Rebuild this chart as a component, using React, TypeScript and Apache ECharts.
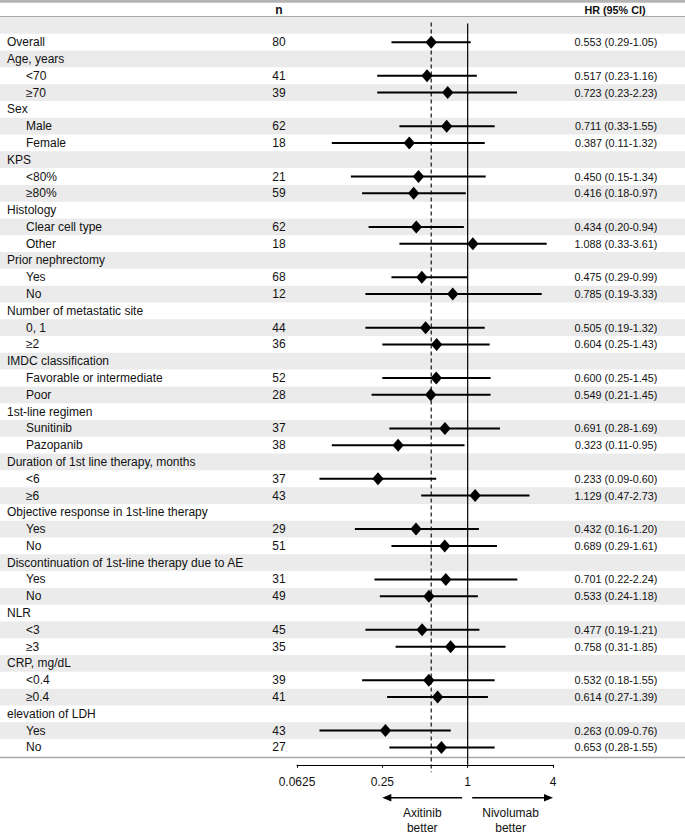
import React, { useEffect, useRef } from "react";
import * as echarts from "echarts";

const rowLabels = ['', 'Overall', 'Age, years', '<70', '≥70', 'Sex', 'Male', 'Female', 'KPS', '<80%', '≥80%', 'Histology', 'Clear cell type', 'Other', 'Prior nephrectomy', 'Yes', 'No', 'Number of metastatic site', '0, 1', '≥2', 'IMDC classification', 'Favorable or intermediate', 'Poor', '1st-line regimen', 'Sunitinib', 'Pazopanib', 'Duration of 1st line therapy, months', '<6', '≥6', 'Objective response in 1st-line therapy', 'Yes', 'No', 'Discontinuation of 1st-line therapy due to AE', 'Yes', 'No', 'NLR', '<3', '≥3', 'CRP, mg/dL', '<0.4', '≥0.4', 'elevation of LDH', 'Yes', 'No'];
const rowLevel = [0, 0, 0, 1, 1, 0, 1, 1, 0, 1, 1, 0, 1, 1, 0, 1, 1, 0, 1, 1, 0, 1, 1, 0, 1, 1, 0, 1, 1, 0, 1, 1, 0, 1, 1, 0, 1, 1, 0, 1, 1, 0, 1, 1];
const nValues = [null, 80, null, 41, 39, null, 62, 18, null, 21, 59, null, 62, 18, null, 68, 12, null, 44, 36, null, 52, 28, null, 37, 38, null, 37, 43, null, 29, 51, null, 31, 49, null, 45, 35, null, 39, 41, null, 43, 27];
const hrValues = [null, 0.553, null, 0.517, 0.723, null, 0.711, 0.387, null, 0.450, 0.416, null, 0.434, 1.088, null, 0.475, 0.785, null, 0.505, 0.604, null, 0.600, 0.549, null, 0.691, 0.323, null, 0.233, 1.129, null, 0.432, 0.689, null, 0.701, 0.533, null, 0.477, 0.758, null, 0.532, 0.614, null, 0.263, 0.653];
const ciLow = [null, 0.29, null, 0.23, 0.23, null, 0.33, 0.11, null, 0.15, 0.18, null, 0.20, 0.33, null, 0.29, 0.19, null, 0.19, 0.25, null, 0.25, 0.21, null, 0.28, 0.11, null, 0.09, 0.47, null, 0.16, 0.29, null, 0.22, 0.24, null, 0.19, 0.31, null, 0.18, 0.27, null, 0.09, 0.28];
const ciHigh = [null, 1.05, null, 1.16, 2.23, null, 1.55, 1.32, null, 1.34, 0.97, null, 0.94, 3.61, null, 0.99, 3.33, null, 1.32, 1.43, null, 1.45, 1.45, null, 1.69, 0.95, null, 0.60, 2.73, null, 1.20, 1.61, null, 2.24, 1.18, null, 1.21, 1.85, null, 1.55, 1.39, null, 0.76, 1.55];
const axisMin = 0.0625;
const axisMax = 4;
const overallHR = hrValues[1] as number;

const FONT = "'Liberation Sans', Arial, sans-serif";

function txt(text: string, x: number, y: number, size: number, align: string, weight = "normal") {
  return {
    type: "text",
    style: {
      text,
      x,
      y,
      fill: "#111",
      fontSize: size,
      fontFamily: FONT,
      fontWeight: weight,
      textAlign: align,
      align,
      textVerticalAlign: "middle",
      verticalAlign: "middle",
    },
  };
}

export default function App() {
  const ref = useRef<HTMLDivElement>(null);
  useEffect(() => {
    if (!ref.current) return;
    const chart = echarts.init(ref.current, undefined, { renderer: "svg" });
    const rowIdx = rowLabels.map((_, i) => i);
    const option: any = {
      animation: false,
      backgroundColor: "#ffffff",
      grid: { left: 297, right: 132, top: 17, bottom: 80.2, containLabel: false },
      xAxis: {
        type: "log",
        logBase: 4,
        min: axisMin,
        max: axisMax,
        position: "bottom",
        offset: 9,
        axisLine: { show: true, lineStyle: { color: "#000", width: 1 } },
        axisTick: { show: true, inside: false, length: 3, lineStyle: { color: "#000" } },
        axisLabel: {
          margin: 11,
          color: "#111",
          fontSize: 12,
          fontFamily: FONT,
          formatter: (v: number) => String(+v.toPrecision(6)),
        },
        splitLine: { show: false },
      },
      yAxis: {
        type: "category",
        data: rowIdx.map(String),
        inverse: true,
        show: false,
      },
      graphic: [
        { type: "rect", shape: { x: 0, y: 0, width: 685, height: 2.7 }, style: { fill: "#b4b4b4" } },
        { type: "line", shape: { x1: 0, y1: 16.7, x2: 685, y2: 16.7 }, style: { stroke: "#a8a8a8", lineWidth: 1.2 } },
        { type: "line", shape: { x1: 0, y1: 757.5, x2: 685, y2: 757.5 }, style: { stroke: "#a8a8a8", lineWidth: 1.6 } },
        {
          type: "text",
          x: 279,
          y: 9.5,
          style: { text: "n", fill: "#111", fontSize: 12, fontWeight: "bold", fontFamily: FONT, textAlign: "center", textVerticalAlign: "middle" },
        },
        {
          type: "text",
          x: 615,
          y: 9.5,
          style: { text: "HR (95% CI)", fill: "#111", fontSize: 10.8, fontWeight: "bold", fontFamily: FONT, textAlign: "center", textVerticalAlign: "middle" },
        },
      ],
      series: [
        {
          type: "custom",
          name: "stripes",
          z: 0,
          clip: false,
          silent: true,
          data: rowIdx.map((i) => [1, i]),
          encode: { x: 0, y: 1 },
          renderItem: (params: any, api: any) => {
            const i = params.dataIndex;
            if (i % 2 !== 0) return { type: "group", children: [] };
            const c = api.coord([1, i]);
            const h = api.size([0, 1])[1];
            return {
              type: "rect",
              shape: { x: 0, y: c[1] - h / 2, width: 685, height: h },
              style: { fill: "#ebebeb" },
            };
          },
        },
        {
          type: "custom",
          name: "reference",
          z: 1,
          clip: false,
          silent: true,
          data: [[1, 0]],
          encode: { x: 0, y: 1 },
          renderItem: (params: any, api: any) => {
            const h = api.size([0, 1])[1];
            const top = api.coord([1, 0])[1] - 1.8;
            const lastY = api.coord([1, rowLabels.length - 1])[1] + h / 2;
            const axisY = lastY + 9;
            const x1 = api.coord([1, 0])[0];
            const xd = api.coord([overallHR, 0])[0];
            const xl = api.coord([0.25, 0])[0];
            const xr = api.coord([axisMax, 0])[0];
            const ay = axisY + 33;
            const children: any[] = [
              { type: "line", shape: { x1, y1: top, x2: x1, y2: axisY }, style: { stroke: "#000", lineWidth: 1.2 } },
              { type: "line", shape: { x1: xd, y1: top - 1, x2: xd, y2: axisY + 7.5 }, style: { stroke: "#000", lineWidth: 1.1, lineDash: [4, 3] } },
              { type: "line", shape: { x1: x1 - 5.5, y1: ay, x2: xl + 6, y2: ay }, style: { stroke: "#000", lineWidth: 1.6 } },
              { type: "polygon", shape: { points: [[xl, ay], [xl + 9, ay - 3.8], [xl + 9, ay + 3.8]] }, style: { fill: "#000" } },
              { type: "line", shape: { x1: x1 + 4.5, y1: ay, x2: xr - 6, y2: ay }, style: { stroke: "#000", lineWidth: 1.6 } },
              { type: "polygon", shape: { points: [[xr, ay], [xr - 9, ay - 3.8], [xr - 9, ay + 3.8]] }, style: { fill: "#000" } },
              {
                type: "text",
                style: { text: "Axitinib\nbetter", x: (xl + x1 - 5.5) / 2, y: ay + 8, fill: "#111", fontSize: 12, fontFamily: FONT, lineHeight: 14.5, textAlign: "center", align: "center", textVerticalAlign: "top", verticalAlign: "top" },
              },
              {
                type: "text",
                style: { text: "Nivolumab\nbetter", x: (xr + x1 + 4.5) / 2 - 2, y: ay + 8, fill: "#111", fontSize: 12, fontFamily: FONT, lineHeight: 14.5, textAlign: "center", align: "center", textVerticalAlign: "top", verticalAlign: "top" },
              },
            ];
            return { type: "group", children };
          },
        },
        {
          type: "custom",
          name: "rows",
          z: 2,
          clip: false,
          silent: true,
          data: rowIdx.map((i) => [hrValues[i] ?? 1, i]),
          encode: { x: 0, y: 1 },
          renderItem: (params: any, api: any) => {
            const i = params.dataIndex;
            const y = api.coord([1, i])[1];
            const children: any[] = [];
            if (rowLabels[i]) {
              children.push(txt(rowLabels[i], rowLevel[i] ? 26 : 7, y, 12, "left"));
            }
            if (nValues[i] != null) {
              children.push(txt(String(nValues[i]), 279, y, 12, "center"));
            }
            const hr = hrValues[i];
            const lo = ciLow[i];
            const hi = ciHigh[i];
            if (hr != null && lo != null && hi != null) {
              const xlo = api.coord([lo, i])[0];
              const xhi = api.coord([hi, i])[0];
              const xh = api.coord([hr, i])[0];
              children.push({ type: "line", shape: { x1: xlo, y1: y, x2: xhi, y2: y }, style: { stroke: "#000", lineWidth: 2 } });
              children.push({
                type: "polygon",
                shape: { points: [[xh, y - 6.5], [xh + 5.7, y], [xh, y + 6.5], [xh - 5.7, y]] },
                style: { fill: "#000" },
              });
              children.push(txt(`${hr.toFixed(3)} (${lo.toFixed(2)}-${hi.toFixed(2)})`, 616, y, 10.8, "center"));
            }
            return { type: "group", children };
          },
        },
      ],
    };
    chart.setOption(option);
    return () => chart.dispose();
  }, []);
  return (
    <div
      ref={ref}
      style={{ position: "absolute", left: 0, top: 0, width: 685, height: 836, background: "#fff" }}
    />
  );
}
